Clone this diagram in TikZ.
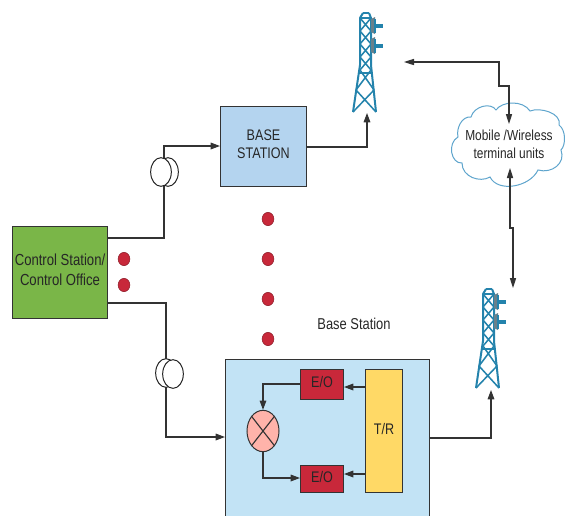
\documentclass[tikz,border=0pt]{standalone}
\usepackage{fontspec}
\setmainfont[FakeStretch=0.82]{Liberation Sans}
\usetikzlibrary{arrows.meta,calc,shapes.geometric}
\definecolor{linec}{HTML}{333333}
\definecolor{towerc}{HTML}{2483AC}
\definecolor{redb}{HTML}{C8283A}
\definecolor{dotc}{HTML}{C8283A}
\definecolor{greenb}{HTML}{7AB648}
\definecolor{blueb}{HTML}{B4D4EF}
\definecolor{paleb}{HTML}{C2E3F5}
\definecolor{yellowb}{HTML}{FFD966}
\definecolor{pinkb}{HTML}{FFB3AA}
\definecolor{cloudc}{HTML}{5FA5CD}
\tikzset{
  conn/.style={draw=linec,line width=0.85pt},
  head/.style={-{Triangle[length=7pt,width=5pt]}},
  arr/.style={conn,head},
  dblarr/.style={conn,{Triangle[length=7.5pt,width=4.6pt]}-{Triangle[length=7.5pt,width=4.6pt]}},
  lbl/.style={text=black!85,align=center,inner sep=0pt},
  boxn/.style={draw=linec,line width=0.75pt,inner sep=0pt,anchor=north west,lbl,text depth=3.5pt,font=\fontsize{11.5}{14.2}\selectfont},
  dotn/.style={ellipse,fill=dotc,draw=dotc!70!black,line width=0.4pt,minimum width=8.8pt,minimum height=10pt,inner sep=0pt},
  coilring/.style={ellipse,draw=black!85,line width=0.75pt,fill=white,minimum width=15.5pt,minimum height=21.5pt,inner sep=0pt},
  towerline/.style={draw=towerc,line width=1.15pt,line join=round}
}
\newcommand{\towerdraw}[2]{%
  \begin{scope}[shift={(#1,#2)}]
    \draw[towerline,line width=1.5pt] (-3,0) -- (-6,5) -- (-6,52) -- (-13,99);
    \draw[towerline,line width=1.5pt] (3,0) -- (5,5) -- (5,52) -- (10,99);
    \draw[towerline] (-3,0) -- (3,0);
    \draw[towerline] (-6,5) -- (5,5);
    \draw[towerline] (-6,5) -- (5,18) -- (-6,31) -- (5,44) -- (-6,57)
                     (5,5) -- (-6,18) -- (5,31) -- (-6,44) -- (5,57);
    \draw[towerline] (-6,57) -- (8,77) -- (-13,99)
                     (5,57) -- (-10,77) -- (10,99);
    \draw[towerline] (-7,60) -- (6,60);
    \foreach \yy in {13,33}{
      \fill[gray!75!towerc] (5,\yy-7) -- (9,\yy-9) -- (9,\yy+8) -- (5,\yy+6) -- cycle;
      \fill[towerc] (8,\yy-7) rectangle (10,\yy+7);
      \fill[towerc] (10,\yy-2) rectangle (16.5,\yy+2);
    }
  \end{scope}}
\begin{document}
\begin{tikzpicture}[x=0.75pt,y=-0.75pt]
\useasboundingbox (0,0) rectangle (565,515);
\begin{scope}
\clip (0,0) rectangle (565,515);
\node (ctrl) [boxn,fill=greenb,minimum width=71.25pt,minimum height=69pt,font=\fontsize{12}{15}\selectfont] at (12,226) {Control Station/\\Control Office};
\node (bs) [boxn,fill=blueb,minimum width=64.5pt,minimum height=60pt] at (220,106) {BASE\\STATION};
\node (bot) [boxn,fill=paleb,minimum width=153pt,minimum height=120pt] at (225,359) {};
\node (eoa) [boxn,fill=redb,minimum width=32.25pt,minimum height=22.5pt] at (300,369) {E/O};
\node (eob) [boxn,fill=redb,minimum width=32.25pt,minimum height=20.25pt] at (300,465) {E/O};
\node (tr) [boxn,fill=yellowb,minimum width=27.75pt,minimum height=92.25pt] at (365,369) {T/R};
\end{scope}
% mixer
\node (mix) [ellipse,draw=linec,line width=0.75pt,fill=pinkb,minimum width=24pt,minimum height=31pt,inner sep=0pt] at (263,431) {};
\draw[conn] (mix.north west) -- (mix.south east) (mix.south west) -- (mix.north east);
\draw[arr] (eoa.west |- 0,384) -| (mix.north);
\draw[arr] (mix.south) |- (eob.west |- 0,478);
\draw[arr] (tr.west |- 0,387) -- (eoa.east |- 0,387);
\draw[arr] (tr.west |- 0,474) -- (eob.east |- 0,474);
% dots
\foreach \n/\xx/\yy in {d1/268/219,d2/268/259,d3/268/299,d4/268/339,d5/124/259,d6/124/285}
  \node[dotn] (\n) at (\xx,\yy) {};
% fibre connectors
\draw[arr] (ctrl.east |- 0,238) -- (164,238) -- (164,146) -- (bs.west |- 0,146);
\draw[arr] (ctrl.east |- 0,303) -- (166,303) -- (166,437) -- (bot.west |- 0,437);
% coils
\node (ca) [coilring] at (168,172) {};
\node (cb) [coilring] at (161,172) {};
\node (cc) [coilring] at (166,373) {};
\node (cd) [coilring] at (173,374) {};
% towers
\towerdraw{366}{13}
\towerdraw{489}{289}
\coordinate (t1base) at (367,113);
\coordinate (t1side) at (404,62);
\coordinate (t2base) at (491,390);
\coordinate (t2top) at (513,288);
% cloud
\draw[draw=cloudc,line width=0.75pt,fill=white]
  (471,117) .. controls (474,106) and (491,102) .. (496,110)
  .. controls (502,101) and (523,100) .. (530,111)
  .. controls (540,107) and (562,113) .. (559,125)
  .. controls (566,130) and (566,145) .. (561,150)
  .. controls (566,163) and (552,174) .. (538,170)
  .. controls (530,187) and (498,193) .. (490,177)
  .. controls (480,183) and (462,177) .. (462,163)
  .. controls (451,164) and (447,143) .. (458,137)
  .. controls (456,128) and (462,116) .. (471,117) -- cycle;
\node (cloud) [lbl,font=\fontsize{10.9}{13.5}\selectfont] at (509,144) {Mobile /Wireless\\terminal units};
\coordinate (cloudT) at (509,124);
\coordinate (cloudB) at (510,168);
% long connectors
\draw[arr] (bs.east |- 0,147) -- (367,147) -- (t1base);
\draw[arr] (bot.east |- 0,438) -- (491,438) -- (t2base);
\draw[dblarr] (t1side) -- (499,62) -- (499,86) -- (509,86) -- (cloudT);
\draw[dblarr] (cloudB) -- (510,228) -- (513,228) -- (t2top);
\node (bslabel) [lbl,font=\fontsize{11.8}{14}\selectfont] at (354,324) {Base Station};
\end{tikzpicture}
\end{document}
